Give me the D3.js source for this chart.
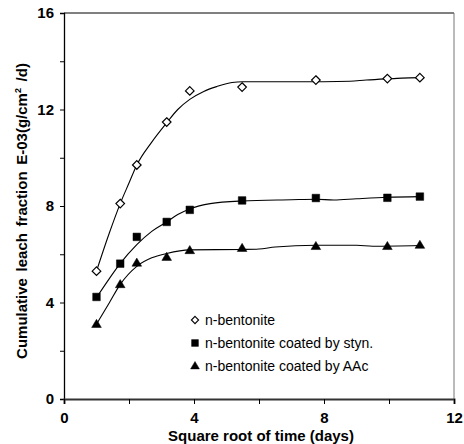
<!DOCTYPE html>
<html>
<head>
<meta charset="utf-8">
<script src="https://cdn.jsdelivr.net/npm/d3@7"></script>
<style>
  html, body { margin: 0; padding: 0; background: #fff; }
  svg { display: block; font-family: Arial, "Liberation Sans", sans-serif; }
</style>
</head>
<body>
<svg id="chart" width="464" height="444"></svg>
<script>
// Measured points: square root of time (days) vs cumulative leach fraction (E-03 g/cm²/d)
const sqrtTime = [1, 1.73, 2.24, 3.16, 3.87, 5.48, 7.75, 9.95, 10.95];
const bentonite = [5.3, 8.1, 9.7, 11.48, 12.77, 12.93, 13.22, 13.28, 13.32];
const coatedStyn = [4.23, 5.61, 6.72, 7.34, 7.84, 8.23, 8.33, 8.34, 8.39];
const coatedAAc = [3.12, 4.77, 5.66, 5.9, 6.18, 6.27, 6.35, 6.35, 6.4];

// Smoothed trend curves drawn through each series
const bentoniteFitX = [1, 1.4, 1.73, 2.0, 2.24, 2.7, 3.16, 3.5, 3.87, 4.3, 4.7, 5.17, 5.5, 7.0, 8.0, 8.8, 9.3, 9.95, 10.4, 10.95];
const bentoniteFitY = [5.3, 6.9, 8.1, 8.95, 9.7, 10.65, 11.45, 12.0, 12.42, 12.75, 12.95, 13.12, 13.15, 13.15, 13.15, 13.17, 13.22, 13.27, 13.3, 13.32];
const stynFitX = [1, 1.4, 1.72, 2.24, 2.7, 3.16, 3.5, 3.87, 4.5, 5.48, 7.0, 7.75, 8.3, 9.0, 9.95, 10.95];
const stynFitY = [4.2, 5.0, 5.6, 6.4, 6.95, 7.34, 7.65, 7.88, 8.1, 8.21, 8.26, 8.28, 8.25, 8.3, 8.36, 8.39];
const aacFitX = [1, 1.4, 1.73, 2.24, 2.7, 3.16, 3.87, 5.5, 6.0, 6.5, 7.75, 9.0, 9.5, 10.95];
const aacFitY = [3.1, 4.0, 4.75, 5.5, 5.85, 6.03, 6.18, 6.2, 6.22, 6.3, 6.37, 6.37, 6.33, 6.36];

const xTicks = [0, 4, 8, 12];
const yTicks = [0, 4, 8, 12, 16];
const legendLabels = ["n-bentonite", "n-bentonite coated by styn.", "n-bentonite coated by AAc"];

const svg = d3.select("#chart");
const plotL = 64, plotR = 454, plotT = 13, plotB = 399;

const x = d3.scaleLinear().domain([0, 12]).range([plotL, plotR]);
const y = d3.scaleLinear().domain([0, 16]).range([plotB, plotT]);

// Plot frame (top and right edges)
svg.append("line").attr("x1", plotL).attr("x2", plotR).attr("y1", plotT).attr("y2", plotT)
  .attr("stroke", "#000").attr("stroke-width", 1);
svg.append("line").attr("x1", plotR).attr("x2", plotR).attr("y1", plotT).attr("y2", plotB)
  .attr("stroke", "#777").attr("stroke-width", 1);

// Axes
const yAxis = d3.axisLeft(y).tickValues(d3.range(0, 17, 2)).tickSize(4).tickFormat(d => yTicks.includes(d) ? d : "");
const gy = svg.append("g").attr("transform", `translate(${plotL},0)`).call(yAxis);
gy.select(".domain").attr("stroke", "#000").attr("stroke-width", 1.3);
gy.selectAll(".tick line").attr("stroke", "#000");
gy.selectAll(".tick text").attr("font-size", 15).attr("font-weight", "bold").attr("fill", "#000").attr("x", -10);

const xAxis = d3.axisBottom(x).tickValues(d3.range(0, 13, 2)).tickSize(5).tickFormat(d => xTicks.includes(d) ? d : "");
const gx = svg.append("g").attr("transform", `translate(0,${plotB})`).call(xAxis);
gx.select(".domain").attr("stroke", "#333").attr("stroke-width", 2);
gx.selectAll(".tick line").attr("stroke", "#000");
gx.selectAll(".tick text").attr("font-size", 15).attr("font-weight", "bold").attr("fill", "#000")
  .attr("y", 24).attr("dy", null);

// Axis titles
svg.append("text").attr("x", 261).attr("y", 440.5).attr("text-anchor", "middle")
  .attr("font-size", 15).attr("font-weight", "bold")
  .text("Square root of time (days)");
const yt = svg.append("text").attr("transform", "translate(27,211) rotate(-90)")
  .attr("text-anchor", "middle").attr("font-size", 15).attr("font-weight", "bold")
  .attr("word-spacing", 2.5);
yt.append("tspan").text("Cumulative leach fraction E-03(g/cm");
yt.append("tspan").attr("font-size", 9).attr("dy", -6).text("2");
yt.append("tspan").attr("dy", 6).text(" /d)");

// Trend curves
const line = d3.line().x(d => x(d[0])).y(d => y(d[1])).curve(d3.curveMonotoneX);
[[bentoniteFitX, bentoniteFitY], [stynFitX, stynFitY], [aacFitX, aacFitY]].forEach(([fx, fy]) => {
  svg.append("path").datum(fx.map((v, i) => [v, fy[i]]))
    .attr("d", line).attr("fill", "none").attr("stroke", "#000").attr("stroke-width", 1.1);
});

// Marker shapes
const diamondPath = r => `M0,${-r}L${r},0L0,${r}L${-r},0Z`;
const squarePath = s => `M${-s},${-s}H${s}V${s}H${-s}Z`;
const trianglePath = s => `M0,${-s}L${s * 1.1},${s * 0.85}L${-s * 1.1},${s * 0.85}Z`;

function drawMarkers(vals, d, fill, sw) {
  svg.append("g").selectAll("path").data(vals).join("path")
    .attr("transform", (v, i) => `translate(${x(sqrtTime[i])},${y(v)})`)
    .attr("d", d)
    .attr("fill", fill).attr("stroke", "#000").attr("stroke-width", sw);
}
drawMarkers(bentonite, diamondPath(4.3), "#fff", 1.2);
drawMarkers(coatedStyn, squarePath(3.8), "#000", 0.5);
drawMarkers(coatedAAc, trianglePath(4.4), "#000", 0.5);

// Legend
const legendShapes = [diamondPath(3.6), squarePath(3.4), trianglePath(4)];
const legendFill = ["#fff", "#000", "#000"];
const legendY = [320, 343, 365.5];
legendLabels.forEach((lab, i) => {
  svg.append("path").attr("transform", `translate(195,${legendY[i]})`).attr("d", legendShapes[i])
    .attr("fill", legendFill[i]).attr("stroke", "#000").attr("stroke-width", i === 0 ? 1.1 : 0.5);
  svg.append("text").attr("x", 205).attr("y", legendY[i] + 5).attr("font-size", 14).text(lab);
});
</script>
</body>
</html>
